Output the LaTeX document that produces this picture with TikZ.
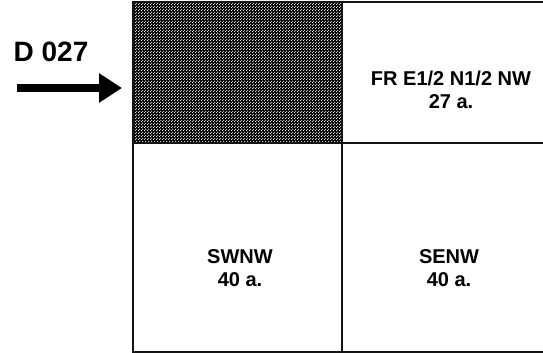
\documentclass[tikz,border=0pt]{standalone}
\usepackage{fontspec}
\setmainfont{Liberation Sans}
\usetikzlibrary{arrows.meta,patterns,positioning}
\definecolor{GridClr}{rgb}{0.08,0.08,0.08}
\pgfdeclarepatternformonly{halftone}{\pgfpointorigin}{\pgfpoint{3pt}{3pt}}{\pgfpoint{3pt}{3pt}}{%
  \pgfpathcircle{\pgfpoint{0.75pt}{0.75pt}}{0.8pt}%
  \pgfpathcircle{\pgfpoint{2.25pt}{2.25pt}}{0.8pt}%
  \pgfusepath{fill}}

\begin{document}
\begin{tikzpicture}[x=1pt,y=-1pt,
  parcel/.style={font=\bfseries\fontsize{20}{23}\selectfont,align=center,inner sep=0pt},
  lotlabel/.style={font=\bfseries\fontsize{28}{30}\selectfont,inner sep=0pt},
  gridline/.style={line width=1.5pt,color=GridClr}]
\useasboundingbox (0,0) rectangle (543,353);

% shaded quarter
\fill[black] (133,2) rectangle (342,143);
\fill[pattern=halftone,pattern color=white] (133,2) rectangle (342,143);

% grid
\draw[gridline] (543,2) -- (133,2) -- (133,352) -- (543,352);
\draw[gridline] (342,2) -- (342,352);
\draw[gridline] (133,143) -- (543,143);

\node[parcel] (ne) at (451,90) {FR E1/2 N1/2 NW\\27 a.};
\node[parcel] (sw) at (240,268) {SWNW\\40 a.};
\node[parcel] (se) at (449,268) {SENW\\40 a.};

\node[lotlabel] (lot) at (51,52) {D 027};
\coordinate (tail) at (17,88);
\coordinate (head) at (122,88);
\draw[-{Triangle[length=23pt,width=28pt]},line width=8.5pt] (tail) -- (head);

\end{tikzpicture}
\end{document}
